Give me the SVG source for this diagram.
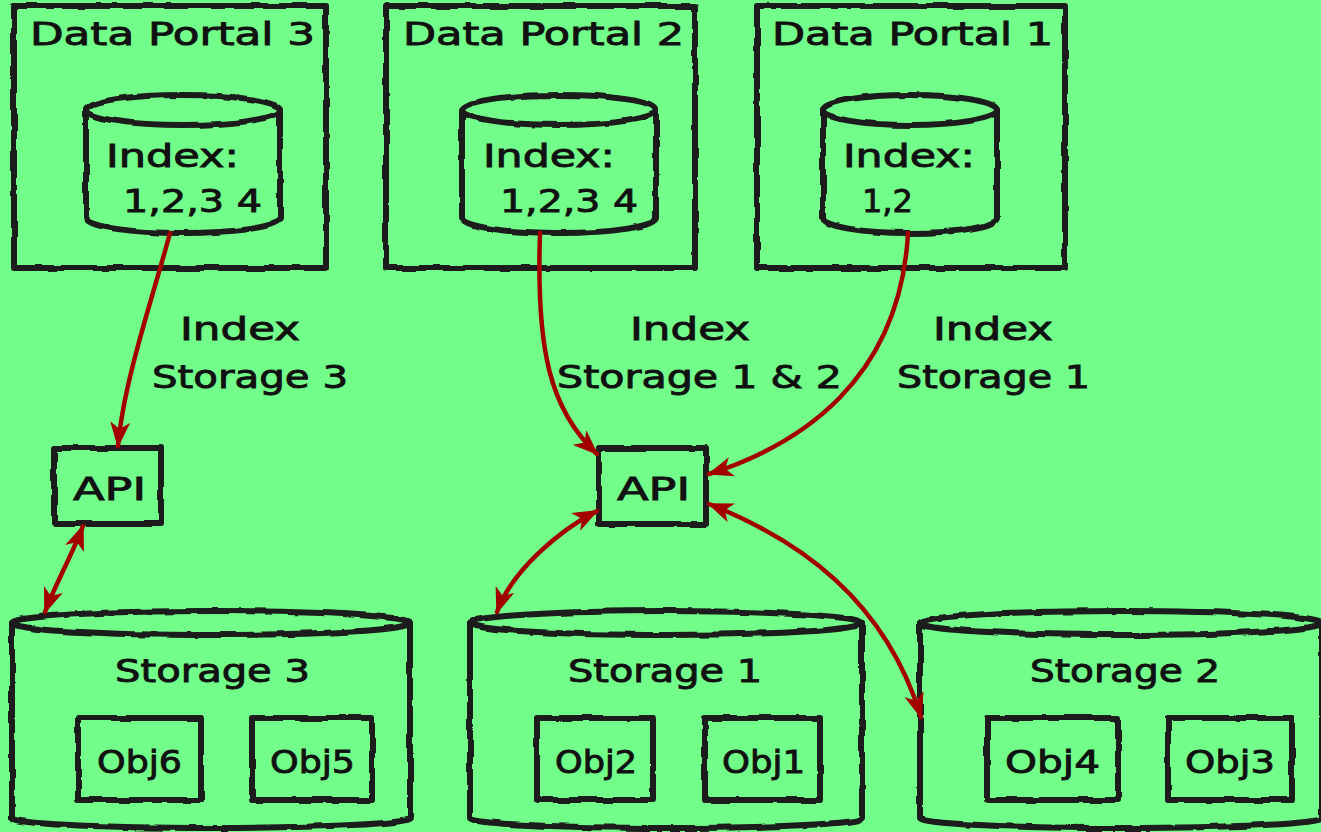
<svg xmlns="http://www.w3.org/2000/svg" width="1321" height="832" viewBox="0 0 1321 832">
  <defs>
    <style>
      .ink { fill: #72fc8a; stroke: #1a1a1a; stroke-width: 6; stroke-linejoin: round; stroke-linecap: round; }
      .wire { fill: none; stroke: #a30000; stroke-width: 4.5; stroke-linecap: round; }
      .lbl { font-family: "DejaVu Sans", "Liberation Sans", sans-serif; font-size: 32px; fill: #111; stroke: #111; stroke-width: 0.9; }
    </style>
    <!-- hand-drawn wobble for outlines -->
    <filter id="rough" filterUnits="userSpaceOnUse" x="0" y="0" width="1321" height="832">
      <feTurbulence type="fractalNoise" baseFrequency="0.045" numOctaves="2" seed="7" result="n"/>
      <feDisplacementMap in="SourceGraphic" in2="n" scale="4" xChannelSelector="R" yChannelSelector="G"/>
    </filter>
    <marker id="head" viewBox="0 0 26 20" refX="24" refY="10" markerWidth="26" markerHeight="20" markerUnits="userSpaceOnUse" orient="auto-start-reverse">
      <path d="M0,0 L26,10 L0,20 L7,10 z" fill="#a30000"/>
    </marker>
  </defs>

  <rect width="1321" height="832" fill="#72fc8a"/>

  <!-- Data portals -->
  <g id="portal3">
    <g filter="url(#rough)">
      <rect class="ink" x="14" y="6" width="312" height="262"/>
      <path class="ink" d="M86,110 L86,218 A97,15 0 0 0 280,218 L280,110"/>
      <ellipse class="ink" cx="183" cy="110" rx="97" ry="15"/>
    </g>
    <text class="lbl" x="30" y="45" textLength="285" lengthAdjust="spacingAndGlyphs">Data Portal 3</text>
    <text class="lbl" x="106" y="167" textLength="133" lengthAdjust="spacingAndGlyphs">Index:</text>
    <text class="lbl" x="123" y="212" textLength="139" lengthAdjust="spacingAndGlyphs">1,2,3 4</text>
  </g>

  <g id="portal2">
    <g filter="url(#rough)">
      <rect class="ink" x="386" y="6" width="309" height="262"/>
      <path class="ink" d="M462,110 L462,218 A97,15 0 0 0 656,218 L656,110"/>
      <ellipse class="ink" cx="559" cy="110" rx="97" ry="15"/>
    </g>
    <text class="lbl" x="403" y="45" textLength="281" lengthAdjust="spacingAndGlyphs">Data Portal 2</text>
    <text class="lbl" x="483" y="167" textLength="132" lengthAdjust="spacingAndGlyphs">Index:</text>
    <text class="lbl" x="500" y="212" textLength="138" lengthAdjust="spacingAndGlyphs">1,2,3 4</text>
  </g>

  <g id="portal1">
    <g filter="url(#rough)">
      <rect class="ink" x="757" y="6" width="308" height="262"/>
      <path class="ink" d="M823,110 L823,218 A87,15 0 0 0 997,218 L997,110"/>
      <ellipse class="ink" cx="910" cy="110" rx="87" ry="15"/>
    </g>
    <text class="lbl" x="772" y="45" textLength="281" lengthAdjust="spacingAndGlyphs">Data Portal 1</text>
    <text class="lbl" x="843" y="167" textLength="132" lengthAdjust="spacingAndGlyphs">Index:</text>
    <text class="lbl" x="862" y="212">1,2</text>
  </g>

  <!-- APIs -->
  <g id="api-left">
    <rect class="ink" x="54" y="448" width="107" height="76" filter="url(#rough)"/>
    <text class="lbl" x="73" y="500" textLength="73" lengthAdjust="spacingAndGlyphs">API</text>
  </g>
  <g id="api-main">
    <rect class="ink" x="599" y="448" width="107" height="76" filter="url(#rough)"/>
    <text class="lbl" x="617" y="500" textLength="73" lengthAdjust="spacingAndGlyphs">API</text>
  </g>

  <!-- Storages -->
  <g id="storage3">
    <g filter="url(#rough)">
      <path class="ink" d="M12,623 L12,818 A199,10 0 0 0 410,818 L410,623"/>
      <ellipse class="ink" cx="211" cy="623" rx="199" ry="12"/>
      <rect class="ink" x="78" y="718" width="123" height="82"/>
      <rect class="ink" x="252" y="718" width="120" height="82"/>
    </g>
    <text class="lbl" x="115" y="682" textLength="195" lengthAdjust="spacingAndGlyphs">Storage 3</text>
    <text class="lbl" x="97" y="773" textLength="85" lengthAdjust="spacingAndGlyphs">Obj6</text>
    <text class="lbl" x="270" y="773" textLength="85" lengthAdjust="spacingAndGlyphs">Obj5</text>
  </g>

  <g id="storage1">
    <g filter="url(#rough)">
      <path class="ink" d="M470,623 L470,818 A196,10 0 0 0 862,818 L862,623"/>
      <ellipse class="ink" cx="666" cy="623" rx="196" ry="12"/>
      <rect class="ink" x="537" y="718" width="116" height="82"/>
      <rect class="ink" x="705" y="718" width="115" height="82"/>
    </g>
    <text class="lbl" x="568" y="682" textLength="194" lengthAdjust="spacingAndGlyphs">Storage 1</text>
    <text class="lbl" x="555" y="773" textLength="82" lengthAdjust="spacingAndGlyphs">Obj2</text>
    <text class="lbl" x="722" y="773" textLength="83" lengthAdjust="spacingAndGlyphs">Obj1</text>
  </g>

  <g id="storage2">
    <g filter="url(#rough)">
      <path class="ink" d="M920,623 L920,818 A201,10 0 0 0 1322,818 L1322,623"/>
      <ellipse class="ink" cx="1121" cy="623" rx="201" ry="12"/>
      <rect class="ink" x="987" y="718" width="131" height="82"/>
      <rect class="ink" x="1168" y="718" width="124" height="82"/>
    </g>
    <text class="lbl" x="1030" y="682" textLength="190" lengthAdjust="spacingAndGlyphs">Storage 2</text>
    <text class="lbl" x="1005" y="773" textLength="95" lengthAdjust="spacingAndGlyphs">Obj4</text>
    <text class="lbl" x="1185" y="773" textLength="90" lengthAdjust="spacingAndGlyphs">Obj3</text>
  </g>

  <!-- Connectors -->
  <g id="connectors">
    <path class="wire" d="M170,233 C152,300 124,380 118,446" marker-end="url(#head)"/>
    <path class="wire" d="M83,526 C72,555 55,585 45,612" marker-start="url(#head)" marker-end="url(#head)"/>
    <path class="wire" d="M540,233 C536,350 550,410 597,454" marker-end="url(#head)"/>
    <path class="wire" d="M908,233 C900,380 800,445 709,474" marker-end="url(#head)"/>
    <path class="wire" d="M597,511 C560,530 512,570 497,612" marker-start="url(#head)" marker-end="url(#head)"/>
    <path class="wire" d="M709,504 C800,540 885,600 921,717" marker-start="url(#head)" marker-end="url(#head)"/>
  </g>

  <!-- Connector labels -->
  <g id="labels">
    <text class="lbl" x="180" y="340" textLength="120" lengthAdjust="spacingAndGlyphs">Index</text>
    <text class="lbl" x="152" y="388" textLength="196" lengthAdjust="spacingAndGlyphs">Storage 3</text>
    <text class="lbl" x="630" y="340" textLength="120" lengthAdjust="spacingAndGlyphs">Index</text>
    <text class="lbl" x="557" y="388" textLength="285" lengthAdjust="spacingAndGlyphs">Storage 1 &amp; 2</text>
    <text class="lbl" x="933" y="340" textLength="120" lengthAdjust="spacingAndGlyphs">Index</text>
    <text class="lbl" x="897" y="388" textLength="193" lengthAdjust="spacingAndGlyphs">Storage 1</text>
  </g>
</svg>
